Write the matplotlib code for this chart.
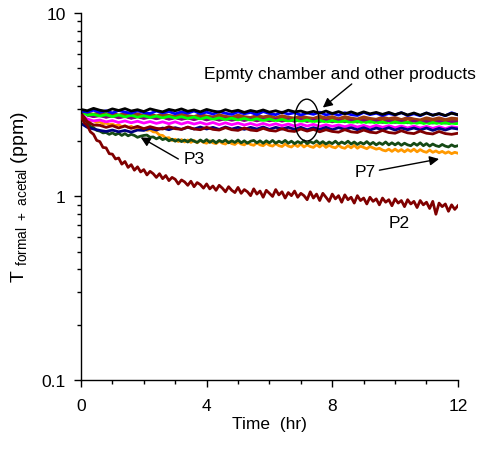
import numpy as np
import matplotlib.pyplot as plt
from matplotlib.patches import Ellipse
from matplotlib.ticker import FixedLocator, MultipleLocator, NullFormatter

plt.rcParams['font.family'] = ['Liberation Sans', 'DejaVu Sans']
plt.rcParams['mathtext.fontset'] = 'custom'
plt.rcParams['mathtext.rm'] = 'Liberation Sans'

# readings every 0.2 hr (cluster of chamber/products)
black = [2.98, 2.93, 3.02, 2.95, 2.91, 3.00, 2.94, 3.01, 2.92, 2.97, 2.90, 3.00, 2.94, 2.89, 2.98,
         2.93, 3.00, 2.91, 2.96, 2.89, 2.98, 2.92, 2.88, 2.97, 2.90, 2.95, 2.87, 2.94, 2.89, 2.96,
         2.88, 2.93, 2.86, 2.95, 2.89, 2.92, 2.85, 2.91, 2.84, 2.92, 2.83, 2.90, 2.82, 2.89, 2.81,
         2.89, 2.82, 2.87, 2.80, 2.87, 2.79, 2.86, 2.78, 2.85, 2.77, 2.85, 2.77, 2.83, 2.76, 2.84, 2.79]
blue = [2.92, 2.88, 2.95, 2.87, 2.93, 2.85, 2.94, 2.88, 2.84, 2.93, 2.86, 2.83, 2.92, 2.85, 2.90,
        2.82, 2.89, 2.84, 2.92, 2.82, 2.88, 2.81, 2.90, 2.84, 2.80, 2.89, 2.82, 2.87, 2.79, 2.90,
        2.83, 2.79, 2.88, 2.81, 2.86, 2.78, 2.85, 2.80, 2.88, 2.78, 2.84, 2.77, 2.86, 2.79, 2.76,
        2.87, 2.79, 2.84, 2.76, 2.83, 2.78, 2.86, 2.76, 2.82, 2.75, 2.85, 2.77, 2.82, 2.75, 2.86, 2.78]
brown = [2.88, 2.82, 2.78, 2.84, 2.76, 2.82, 2.75, 2.81, 2.74, 2.80, 2.73, 2.79, 2.72, 2.79, 2.74,
         2.71, 2.78, 2.73, 2.70, 2.77, 2.72, 2.69, 2.76, 2.71, 2.68, 2.75, 2.70, 2.67, 2.74, 2.69,
         2.73, 2.66, 2.73, 2.68, 2.65, 2.72, 2.67, 2.64, 2.71, 2.66, 2.70, 2.63, 2.70, 2.65, 2.62,
         2.69, 2.64, 2.61, 2.68, 2.63, 2.67, 2.60, 2.67, 2.62, 2.59, 2.66, 2.61, 2.66, 2.60, 2.65, 2.63]
red = [2.86, 2.78, 2.74, 2.80, 2.71, 2.77, 2.70, 2.76, 2.69, 2.75, 2.68, 2.74, 2.67, 2.73, 2.66,
       2.72, 2.65, 2.71, 2.64, 2.70, 2.63, 2.69, 2.62, 2.70, 2.64, 2.61, 2.69, 2.63, 2.60, 2.68,
       2.62, 2.59, 2.67, 2.61, 2.58, 2.66, 2.60, 2.64, 2.58, 2.65, 2.57, 2.63, 2.57, 2.64, 2.56,
       2.62, 2.56, 2.63, 2.55, 2.61, 2.55, 2.62, 2.54, 2.60, 2.54, 2.61, 2.53, 2.59, 2.55, 2.60, 2.57]
lime = [2.84, 2.77, 2.80, 2.74, 2.79, 2.72, 2.78, 2.71, 2.77, 2.70, 2.75, 2.69, 2.74, 2.68, 2.73,
        2.67, 2.72, 2.66, 2.71, 2.64, 2.70, 2.63, 2.68, 2.62, 2.67, 2.61, 2.66, 2.60, 2.65, 2.59,
        2.64, 2.58, 2.63, 2.57, 2.62, 2.56, 2.61, 2.55, 2.60, 2.54, 2.59, 2.54, 2.58, 2.52, 2.57,
        2.51, 2.56, 2.51, 2.55, 2.49, 2.55, 2.50, 2.54, 2.48, 2.53, 2.47, 2.53, 2.48, 2.52, 2.47, 2.50]
purple = [2.84, 2.76, 2.72, 2.75, 2.70, 2.74, 2.68, 2.72, 2.66, 2.71, 2.66, 2.70, 2.65, 2.69, 2.63,
          2.68, 2.63, 2.67, 2.62, 2.67, 2.61, 2.66, 2.60, 2.65, 2.60, 2.64, 2.59, 2.64, 2.58, 2.63,
          2.58, 2.63, 2.57, 2.62, 2.57, 2.62, 2.56, 2.61, 2.56, 2.60, 2.55, 2.60, 2.55, 2.59, 2.54,
          2.59, 2.54, 2.58, 2.53, 2.58, 2.53, 2.57, 2.52, 2.57, 2.52, 2.56, 2.51, 2.56, 2.51, 2.55, 2.54]
white = [2.80, 2.66, 2.62, 2.64, 2.58, 2.63, 2.57, 2.62, 2.56, 2.61, 2.55, 2.60, 2.54, 2.59, 2.53,
         2.58, 2.52, 2.57, 2.51, 2.56, 2.50, 2.55, 2.49, 2.54, 2.48, 2.53, 2.47, 2.52, 2.46, 2.51,
         2.46, 2.51, 2.45, 2.50, 2.44, 2.49, 2.43, 2.48, 2.43, 2.48, 2.42, 2.47, 2.41, 2.46, 2.41,
         2.46, 2.40, 2.45, 2.40, 2.45, 2.39, 2.44, 2.38, 2.44, 2.38, 2.43, 2.38, 2.43, 2.37, 2.42, 2.40]
magenta = [2.80, 2.64, 2.58, 2.61, 2.55, 2.59, 2.53, 2.58, 2.52, 2.57, 2.51, 2.56, 2.50, 2.55, 2.49,
           2.55, 2.48, 2.54, 2.48, 2.53, 2.47, 2.53, 2.46, 2.52, 2.46, 2.51, 2.45, 2.50, 2.44, 2.50,
           2.44, 2.49, 2.43, 2.48, 2.42, 2.48, 2.42, 2.47, 2.41, 2.46, 2.41, 2.45, 2.40, 2.45, 2.39,
           2.44, 2.38, 2.44, 2.38, 2.43, 2.37, 2.42, 2.36, 2.42, 2.36, 2.41, 2.35, 2.40, 2.34, 2.40, 2.37]
navy = [2.50, 2.38, 2.33, 2.29, 2.26, 2.30, 2.25, 2.29, 2.24, 2.30, 2.29, 2.35, 2.30, 2.36, 2.31,
        2.37, 2.32, 2.38, 2.33, 2.39, 2.33, 2.38, 2.32, 2.39, 2.33, 2.38, 2.32, 2.38, 2.33, 2.39,
        2.32, 2.38, 2.33, 2.38, 2.32, 2.38, 2.31, 2.37, 2.32, 2.38, 2.31, 2.37, 2.32, 2.37, 2.31,
        2.37, 2.30, 2.36, 2.31, 2.37, 2.30, 2.36, 2.31, 2.36, 2.30, 2.36, 2.29, 2.35, 2.30, 2.36, 2.33]
maroon = [2.85, 2.56, 2.45, 2.44, 2.38, 2.43, 2.36, 2.42, 2.35, 2.41, 2.34, 2.40, 2.35, 2.33, 2.40,
          2.34, 2.32, 2.39, 2.33, 2.31, 2.38, 2.32, 2.30, 2.37, 2.31, 2.29, 2.36, 2.30, 2.28, 2.35,
          2.29, 2.27, 2.34, 2.28, 2.26, 2.33, 2.27, 2.32, 2.25, 2.31, 2.26, 2.24, 2.31, 2.25, 2.23,
          2.30, 2.24, 2.22, 2.29, 2.23, 2.21, 2.28, 2.22, 2.20, 2.27, 2.21, 2.19, 2.26, 2.20, 2.18, 2.21]

# readings every 0.1 hr
p3 = [2.85, 2.64, 2.53, 2.41, 2.37, 2.29, 2.27, 2.22, 2.23, 2.18, 2.22, 2.17, 2.21, 2.15, 2.20,
      2.14, 2.18, 2.15, 2.10, 2.13, 2.15, 2.16, 2.10, 2.11, 2.06, 2.10, 2.04, 2.07, 2.01, 2.05,
      2.00, 2.04, 1.99, 2.03, 1.98, 2.04, 2.00, 1.97, 2.03, 1.98, 2.04, 1.97, 2.02, 1.96, 2.02,
      1.98, 2.03, 1.96, 2.01, 1.97, 2.03, 1.96, 2.01, 1.95, 2.00, 2.02, 1.96, 2.01, 1.95, 2.01,
      1.96, 2.02, 1.95, 2.00, 1.96, 2.02, 1.95, 2.00, 1.94, 1.99, 1.95, 2.01, 1.94, 1.99, 1.95,
      2.01, 1.94, 1.99, 1.93, 1.98, 1.94, 2.00, 1.93, 1.98, 1.94, 2.00, 1.93, 1.98, 1.92, 1.97,
      1.93, 1.99, 1.92, 1.97, 1.91, 1.96, 1.92, 1.98, 1.91, 1.96, 1.91, 1.96, 1.90, 1.95, 1.91,
      1.89, 1.95, 1.90, 1.96, 1.89, 1.94, 1.88, 1.93, 1.89, 1.87, 1.92, 1.88, 1.86, 1.91, 1.87, 1.89]
p7 = [2.80, 2.68, 2.66, 2.58, 2.59, 2.53, 2.55, 2.49, 2.51, 2.46, 2.48, 2.43, 2.46, 2.40, 2.43,
      2.38, 2.41, 2.35, 2.38, 2.32, 2.35, 2.29, 2.31, 2.25, 2.24, 2.16, 2.15, 2.08, 2.09, 2.02,
      2.05, 1.99, 2.04, 1.98, 2.03, 1.97, 2.02, 1.96, 2.02, 1.97, 1.95, 2.01, 1.96, 1.94, 2.00,
      1.95, 1.93, 1.99, 1.94, 1.92, 1.98, 1.93, 1.91, 1.97, 1.92, 1.90, 1.96, 1.91, 1.89, 1.95,
      1.90, 1.88, 1.94, 1.89, 1.87, 1.93, 1.88, 1.86, 1.92, 1.87, 1.93, 1.86, 1.91, 1.87, 1.85,
      1.91, 1.86, 1.92, 1.85, 1.90, 1.86, 1.84, 1.90, 1.85, 1.83, 1.89, 1.84, 1.90, 1.83, 1.88,
      1.85, 1.82, 1.87, 1.84, 1.81, 1.83, 1.79, 1.77, 1.81, 1.76, 1.81, 1.76, 1.80, 1.75, 1.80,
      1.76, 1.81, 1.75, 1.80, 1.76, 1.74, 1.79, 1.74, 1.77, 1.73, 1.76, 1.72, 1.75, 1.71, 1.74, 1.72]
p2 = [2.75, 2.52, 2.44, 2.25, 2.18, 2.02, 1.99, 1.85, 1.84, 1.71, 1.70,
      1.60, 1.62, 1.50, 1.55, 1.44, 1.49, 1.39, 1.45, 1.36, 1.40,
      1.31, 1.37, 1.33, 1.27, 1.33, 1.25, 1.30, 1.22, 1.27, 1.24,
      1.17, 1.23, 1.20, 1.15, 1.21, 1.13, 1.19, 1.16, 1.11, 1.17,
      1.10, 1.14, 1.08, 1.15, 1.11, 1.06, 1.13, 1.08, 1.05, 1.12,
      1.04, 1.09, 1.06, 1.01, 1.10, 1.03, 1.07, 0.99, 1.08, 1.04,
      1.00, 1.09, 1.02, 1.06, 0.98, 1.05, 1.01, 1.07, 0.99, 1.04,
      1.01, 0.96, 1.06, 0.98, 1.03, 0.95, 1.04, 0.99, 0.94, 1.03,
      0.97, 1.01, 0.93, 1.02, 0.96, 0.99, 0.92, 1.01, 0.95, 0.98,
      0.91, 0.99, 0.94, 0.97, 0.90, 0.98, 0.93, 0.96, 0.89, 0.97,
      0.92, 0.95, 0.88, 0.96, 0.91, 0.94, 0.87, 0.95, 0.90, 0.93,
      0.86, 0.94, 0.80, 0.92, 0.88, 0.91, 0.83, 0.90, 0.85, 0.89]

fig = plt.figure(figsize=(4.82, 4.56), dpi=100)
ax = fig.add_axes([0.168, 0.1645, 0.782, 0.805])


def draw(vals, color, lw=2.0, z=2):
    t = np.linspace(0, 12, len(vals))
    ax.plot(t, vals, color=color, lw=lw, zorder=z)


draw(p7, '#FF9900', 2.0)
draw(p3, '#154A15', 2.0)
draw(red, '#FF0000')
draw(brown, '#9C3C10', 3.0)
draw(purple, '#800080')
draw(lime, '#00FF00')
draw(white, '#FFFFFF')
draw(magenta, '#FF00FF')
draw(navy, '#000080')
draw(maroon, '#800000')
draw(blue, '#0000FF')
draw(black, '#000000')
draw(p2, '#800000', 2.0, 3)

ax.set_yscale('log')
ax.set_xlim(0, 12)
ax.set_ylim(0.1, 10)
ax.xaxis.set_major_locator(FixedLocator([0, 4, 8, 12]))
ax.xaxis.set_minor_locator(MultipleLocator(1))
ax.yaxis.set_major_locator(FixedLocator([0.1, 1, 10]))
ax.set_yticklabels(['0.1', '1', '10'])
ax.yaxis.set_minor_locator(FixedLocator([a * b for b in (0.1, 1) for a in range(2, 10)]))
ax.yaxis.set_minor_formatter(NullFormatter())
ax.tick_params(axis='both', which='major', length=5, width=1, labelsize=12.5, direction='out')
ax.tick_params(axis='both', which='minor', length=3, width=1, direction='out')
ax.tick_params(axis='x', which='major', pad=8)
ax.tick_params(axis='y', which='major', pad=6)
for s in ('top', 'right'):
    ax.spines[s].set_visible(False)
for s in ('left', 'bottom'):
    ax.spines[s].set_linewidth(1)

ax.set_xlabel('Time  (hr)', fontsize=12.5, labelpad=2)
ax.set_ylabel(r'T $_{\mathrm{formal\ +\ acetal}}$ (ppm)', fontsize=14, labelpad=8)

arrow = dict(arrowstyle='-|>', color='black', lw=1, mutation_scale=14, shrinkA=0, shrinkB=0)
ax.text(8.24, 4.68, 'Epmty chamber and other products', fontsize=12.5, ha='center', va='center')
ax.add_patch(Ellipse((0.599, 0.708), 0.064, 0.114, transform=ax.transAxes,
                     fill=False, edgecolor='black', lw=1, zorder=5))
ax.annotate('', xy=(7.7, 3.05), xytext=(8.62, 4.1), arrowprops=arrow)

ax.text(3.6, 1.60, 'P3', fontsize=12.5, ha='center', va='center')
ax.annotate('', xy=(1.9, 2.1), xytext=(3.1, 1.6), arrowprops=arrow)

ax.text(9.05, 1.36, 'P7', fontsize=12.5, ha='center', va='center')
ax.annotate('', xy=(11.4, 1.6), xytext=(9.5, 1.39), arrowprops=arrow)

ax.text(10.12, 0.72, 'P2', fontsize=12.5, ha='center', va='center')

fig.savefig('out.png', dpi=100)
